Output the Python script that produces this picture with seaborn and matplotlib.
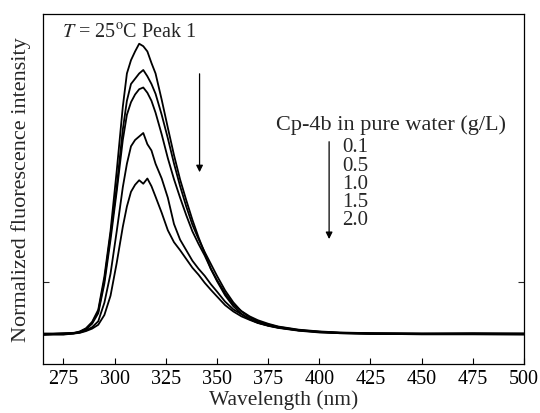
import numpy as np
import pandas as pd
import matplotlib
matplotlib.use('Agg')
import matplotlib.pyplot as plt
import seaborn as sns

# emission wavelength grid (nm)
wavelength = [265, 270, 275, 280, 283, 286, 289, 292, 295, 298, 301, 304, 306, 308,
              310, 312, 314, 316, 318, 320, 323, 326, 329, 332, 335, 338, 341, 344,
              347, 350, 354, 358, 362, 366, 370, 375, 380, 390, 400, 410, 425, 450,
              475, 500]

# normalized intensity, one list per concentration
int_01 = [0.085, 0.086, 0.086, 0.088, 0.093, 0.102, 0.120, 0.155, 0.250, 0.380, 0.550,
          0.735, 0.830, 0.868, 0.893, 0.915, 0.908, 0.893, 0.860, 0.830, 0.755, 0.675,
          0.597, 0.527, 0.468, 0.412, 0.362, 0.317, 0.272, 0.237, 0.196, 0.165, 0.143,
          0.128, 0.118, 0.110, 0.104, 0.096, 0.092, 0.089, 0.087, 0.086, 0.087, 0.086]
int_05 = [0.083, 0.084, 0.084, 0.087, 0.091, 0.100, 0.118, 0.150, 0.240, 0.370, 0.505,
          0.670, 0.752, 0.800, 0.815, 0.830, 0.840, 0.822, 0.800, 0.772, 0.712, 0.645,
          0.573, 0.508, 0.450, 0.398, 0.357, 0.320, 0.286, 0.252, 0.210, 0.176, 0.150,
          0.133, 0.122, 0.113, 0.106, 0.097, 0.092, 0.089, 0.088, 0.087, 0.086, 0.087]
int_10 = [0.087, 0.087, 0.088, 0.089, 0.092, 0.099, 0.115, 0.145, 0.230, 0.355, 0.492,
          0.640, 0.712, 0.748, 0.770, 0.785, 0.790, 0.775, 0.752, 0.718, 0.656, 0.588,
          0.528, 0.475, 0.425, 0.379, 0.343, 0.310, 0.272, 0.240, 0.202, 0.170, 0.151,
          0.136, 0.125, 0.115, 0.107, 0.098, 0.093, 0.090, 0.088, 0.087, 0.088, 0.087]
int_15 = [0.086, 0.086, 0.087, 0.088, 0.090, 0.096, 0.105, 0.122, 0.175, 0.258, 0.378,
          0.505, 0.572, 0.622, 0.640, 0.650, 0.660, 0.628, 0.610, 0.572, 0.530, 0.475,
          0.400, 0.355, 0.325, 0.295, 0.272, 0.252, 0.228, 0.207, 0.178, 0.156, 0.142,
          0.128, 0.118, 0.110, 0.104, 0.096, 0.091, 0.088, 0.086, 0.085, 0.085, 0.084]
int_20 = [0.084, 0.085, 0.085, 0.087, 0.089, 0.094, 0.101, 0.112, 0.140, 0.195, 0.288,
          0.392, 0.450, 0.492, 0.512, 0.525, 0.515, 0.530, 0.508, 0.478, 0.432, 0.382,
          0.348, 0.325, 0.300, 0.275, 0.255, 0.232, 0.212, 0.193, 0.168, 0.150, 0.136,
          0.126, 0.117, 0.109, 0.103, 0.095, 0.090, 0.088, 0.086, 0.085, 0.085, 0.085]

conc_labels = ['0.1', '0.5', '1.0', '1.5', '2.0']
x_ticks = [275, 300, 325, 350, 375, 400, 425, 450, 475, 500]

df = pd.DataFrame({'wavelength': wavelength * 5,
                   'intensity': int_01 + int_05 + int_10 + int_15 + int_20,
                   'conc': np.repeat(conc_labels, len(wavelength))})

sns.set_style('ticks')
plt.rcParams['font.family'] = ['Liberation Serif', 'DejaVu Serif']
plt.rcParams['mathtext.fontset'] = 'stix'

fig = plt.figure(figsize=(5.4, 4.14), dpi=100)
ax = fig.add_axes([0.0796, 0.1184, 0.8907, 0.8454])

sns.lineplot(data=df, x='wavelength', y='intensity', units='conc', estimator=None,
             color='black', linewidth=1.3, legend=False, ax=ax)

ax.set_xlim(265, 500)
ax.set_ylim(0, 1)
ax.set_xticks(x_ticks)
ax.set_yticks([0.234])
ax.set_yticklabels([])
ax.tick_params(axis='x', direction='in', length=4, width=0.8, labelsize=14.5, colors='black')
ax.tick_params(axis='y', direction='in', length=4, width=0.8, right=True, left=True)
for s in ax.spines.values():
    s.set_visible(True)
    s.set_linewidth(0.9)
    s.set_color('black')

ax.set_xlabel('Wavelength (nm)', fontsize=15.5, labelpad=1)
ax.set_ylabel('Normalized fluorescence intensity', fontsize=16, labelpad=5)

ax.text(274.3, 0.934, r'$T$ = 25$^{\mathrm{o}}$C Peak 1', fontsize=14.5, va='baseline')
ax.annotate('', xy=(341.5, 0.54), xytext=(341.5, 0.837),
            arrowprops=dict(arrowstyle='-|>', color='black', lw=0.9, mutation_scale=10))

ax.text(379.0, 0.686, 'Cp-4b in pure water (g/L)', fontsize=16, va='center')
for i, lab in enumerate(conc_labels):
    ax.text(411.1, 0.62 - i * 0.0515, lab, fontsize=15, va='center')
ax.annotate('', xy=(404.8, 0.349), xytext=(404.8, 0.643),
            arrowprops=dict(arrowstyle='-|>', color='black', lw=0.9, mutation_scale=10))

plt.savefig('out.png', dpi=100)
